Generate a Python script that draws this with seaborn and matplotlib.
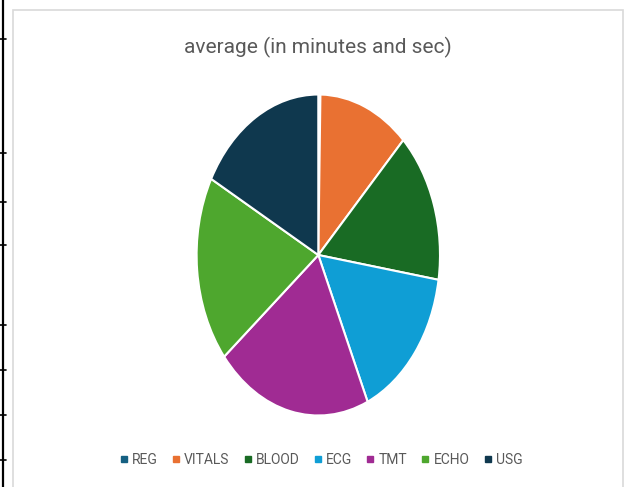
import matplotlib
matplotlib.use("Agg")
import matplotlib.pyplot as plt
import seaborn as sns
from matplotlib.lines import Line2D
from matplotlib.patches import Rectangle

categories = ["REG", "VITALS", "BLOOD", "ECG", "TMT", "ECHO", "USG"]
values = [0.10, 4.33, 5.46, 5.72, 7.46, 6.76, 6.17]
colors = ["#156082", "#E97132", "#196B24", "#0F9ED5", "#A02B93", "#4EA72E", "#0F384E"]
title = "average (in minutes and sec)"

sns.set_theme(style="white")
plt.rcParams['font.family'] = ['Roboto', 'DejaVu Sans']

W, H = 628, 487
fig = plt.figure(figsize=(W / 100, H / 100), dpi=100)
fig.patch.set_facecolor("white")

# chart border
fig.add_artist(Rectangle((13 / W, -0.01), (623 - 13) / W, 1 - 10 / H + 0.01,
                         transform=fig.transFigure, fill=False,
                         edgecolor="#D9D9D9", linewidth=1.2))

# spreadsheet cell border remnants on the left
fig.add_artist(Line2D([3.5 / W, 3.5 / W], [0, 1], transform=fig.transFigure,
                      color="black", linewidth=1.6))
for yy in [39, 153, 202, 245, 325, 370, 415, 460]:
    fig.add_artist(Line2D([0, 6 / W], [1 - yy / H, 1 - yy / H], transform=fig.transFigure,
                          color="black", linewidth=1.2))

cx, cy, rx, ry = 318.3, 255, 121.7, 160.5
ax = fig.add_axes([(cx - rx) / W, (H - cy - ry) / H, 2 * rx / W, 2 * ry / H])
ax.pie(values, colors=colors, startangle=90, counterclock=False,
       wedgeprops=dict(edgecolor="white", linewidth=1.5))
ax.set_aspect("auto")
ax.set_xlim(-1, 1)
ax.set_ylim(-1, 1)
ax.axis("off")

fig.text(318 / W, 1 - 47 / H, title, ha="center", va="center",
         fontsize=15, color="#595959")

handles = [Line2D([], [], marker="s", linestyle="none", markersize=5,
                  markerfacecolor=c, markeredgecolor=c) for c in colors]
fig.legend(handles, categories, loc="center", bbox_to_anchor=(321 / W, 1 - 460 / H),
           ncol=7, frameon=False, fontsize=10, handlelength=0.6, handletextpad=0.3,
           columnspacing=1.0, labelcolor="#595959")

fig.savefig("out.png", dpi=100)
